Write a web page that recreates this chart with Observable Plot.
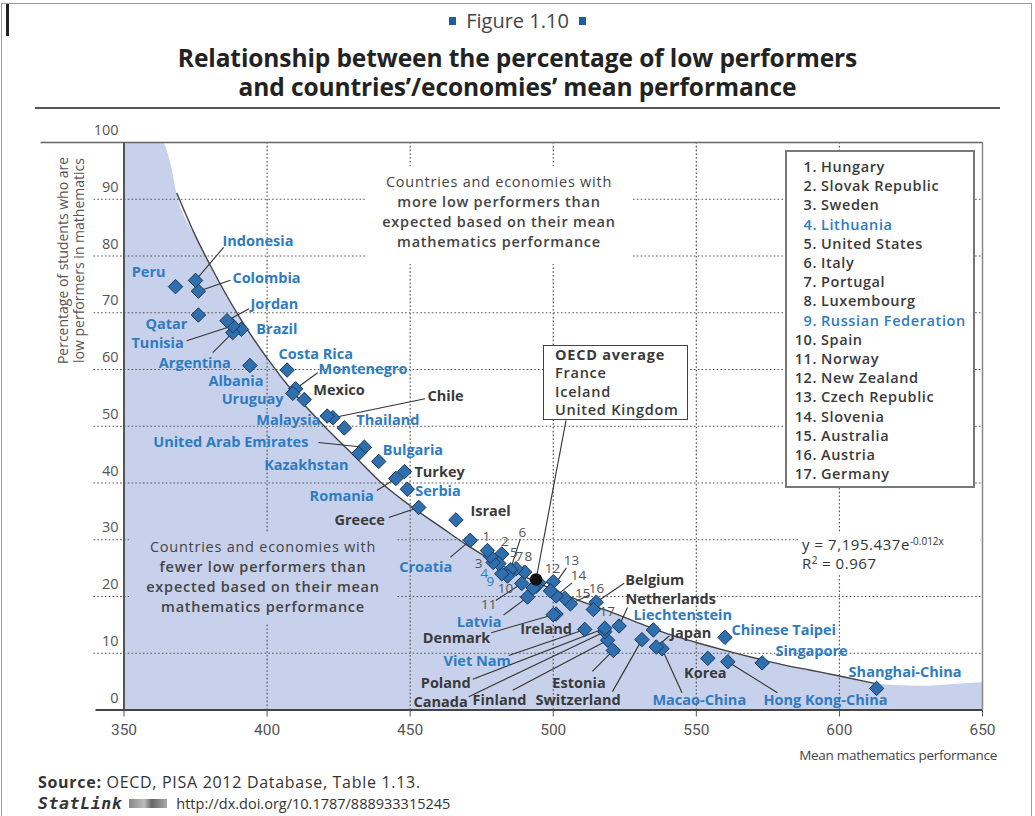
<!DOCTYPE html>
<html>
<head>
<meta charset="utf-8">
<script src="https://cdn.jsdelivr.net/npm/d3@7"></script>
<script src="https://cdn.jsdelivr.net/npm/@observablehq/plot@0.6"></script>
<style>
html,body{margin:0;padding:0;background:#fff;}
#page{position:relative;width:1035px;height:816px;overflow:hidden;background:#fff;font-family:"Open Sans",sans-serif;color:#333;}
#border{position:absolute;left:1px;top:3px;width:1029px;height:830px;border:1px solid #9a9a9a;}
#bar{position:absolute;left:6px;top:4px;width:3px;height:32px;background:#222;}
#fig{position:absolute;left:0;width:1035px;top:7px;text-align:center;font-size:20px;color:#444;line-height:28px;}
.sq{display:inline-block;width:7px;height:8px;background:#1f5c9c;vertical-align:3px;margin:0 10px;}
#title{position:absolute;left:0;width:1035px;top:43px;text-align:center;font-weight:700;font-size:24.5px;line-height:29px;color:#222;letter-spacing:-0.1px;}
#rule{position:absolute;left:35px;width:965px;top:107px;height:2px;background:#555;}
#chart{position:absolute;left:0;top:115px;}
.note{position:absolute;text-align:center;font-size:14.5px;line-height:20px;color:#444;letter-spacing:0.75px;white-space:nowrap;}
.note b{font-weight:600;}
#noteTop{left:366px;top:166px;width:266px;padding:6px 0 12px 0;background:#fff;}
#noteBot{left:129px;top:533px;width:268px;padding:4px 0 6px 0;background:#c8d1eb;}
#legend{position:absolute;left:785px;top:150px;width:186px;height:329px;border:2px solid #777;background:#fff;padding-top:5px;box-sizing:content-box;}
.li{font-size:14.5px;font-weight:600;line-height:19.2px;color:#3a3a3a;white-space:nowrap;letter-spacing:0.6px;}
.li .n{display:inline-block;width:30px;text-align:right;margin-right:4px;}
#oecd{position:absolute;left:543px;top:345px;width:145px;height:75px;border:1.5px solid #444;background:#fff;padding:0 0 0 11px;box-sizing:border-box;font-size:14.5px;line-height:18.3px;color:#3a3a3a;font-weight:600;white-space:nowrap;letter-spacing:0.75px;}
#eq{position:absolute;left:798px;top:532px;width:182px;height:41px;background:#fff;color:#333;padding:3px 0 0 4px;box-sizing:border-box;white-space:nowrap;letter-spacing:0.55px;}
#eq div{font-size:15px;line-height:18.5px;height:18.5px;}
#eq sup{font-size:10px;vertical-align:5px;line-height:0;letter-spacing:0;}
#xlab{position:absolute;right:38px;top:746px;font-size:13.5px;color:#444;letter-spacing:-0.3px;}
#src{position:absolute;left:38px;top:771px;font-size:16px;color:#333;letter-spacing:0.7px;white-space:nowrap;}
#stat{position:absolute;left:38px;top:794px;font-size:14.5px;color:#333;white-space:nowrap;}
#stat .sl{font-family:"DejaVu Sans Mono",monospace;font-weight:700;font-style:italic;font-size:16.5px;color:#333;letter-spacing:0.6px;}
#stat .ic{display:inline-block;width:38px;height:9px;margin:0 9px 0 7px;background:linear-gradient(90deg,#888,#bbb 40%,#666 60%,#aaa);vertical-align:1px;}
</style>
</head>
<body>
<div id="page">
  <div id="border"></div>
  <div id="bar"></div>
  <div id="fig"><span class="sq"></span>Figure 1.10<span class="sq"></span></div>
  <div id="title">Relationship between the percentage of low performers<br>and countries’/economies’ mean performance</div>
  <div id="rule"></div>
  <div id="chart"></div>
  <div class="note" id="noteTop">Countries and economies with<br><b>more low performers than<br>expected based on their mean<br>mathematics performance</b></div>
  <div class="note" id="noteBot">Countries and economies with<br><b>fewer low performers than<br>expected based on their mean<br>mathematics performance</b></div>
  <div id="legend"></div>
  <div id="oecd"><span style="font-weight:700">OECD average</span><br>France<br>Iceland<br>United Kingdom</div>
  <div id="eq"><div>y = 7,195.437e<sup>-0.012x</sup></div><div>R<sup>2</sup> = 0.967</div></div>
  <div id="xlab">Mean mathematics performance</div>
  <div id="src"><b style="font-weight:700">Source:</b> OECD, PISA 2012 Database, Table 1.13.</div>
  <div id="stat"><span class="sl">StatLink</span><span class="ic"></span>http://dx.doi.org/10.1787/888933315245</div>
</div>
<script>
// ---------------- DATA ----------------
const countries = ["Shanghai-China","Singapore","Hong Kong-China","Chinese Taipei","Korea","Macao-China","Japan","Liechtenstein","Switzerland","Netherlands","Estonia","Finland","Canada","Poland","Belgium","Germany","Viet Nam","Austria","Australia","Ireland","Slovenia","Denmark","New Zealand","Czech Republic","France","United Kingdom","Iceland","Latvia","Luxembourg","Norway","Portugal","Italy","Spain","Russian Federation","Slovak Republic","United States","Lithuania","Sweden","Hungary","Croatia","Israel","Greece","Serbia","Turkey","Romania","Bulgaria","United Arab Emirates","Kazakhstan","Thailand","Chile","Malaysia","Mexico","Montenegro","Uruguay","Costa Rica","Albania","Brazil","Argentina","Tunisia","Jordan","Colombia","Qatar","Indonesia","Peru"];
const meanScore = [613,573,561,560,554,538,536,535,531,523,521,519,518,518,515,514,511,506,504,501,501,500,500,499,495,494,493,491,490,489,487,485,484,482,482,481,479,478,477,471,466,453,449,448,445,439,434,432,427,423,421,413,410,409,407,394,391,388,388,386,376,376,375,368];
const lowPct = [3.8,8.3,8.5,12.8,9.1,10.8,11.1,14.1,12.4,14.8,10.5,12.3,13.8,14.4,19.0,17.7,14.2,18.7,19.7,16.9,20.1,16.8,22.6,21.0,22.4,21.8,21.5,19.9,24.3,22.3,24.9,24.7,23.6,24.0,27.5,25.8,26.0,27.1,28.1,29.9,33.5,35.7,38.9,42.0,40.8,43.8,46.3,45.2,49.7,51.5,51.8,54.7,56.6,55.8,59.9,60.7,67.1,66.5,67.7,68.6,73.8,69.6,75.7,74.6];
const partners = ["Shanghai-China","Singapore","Hong Kong-China","Chinese Taipei","Macao-China","Liechtenstein","Viet Nam","Latvia","Russian Federation","Lithuania","Croatia","Serbia","Romania","Bulgaria","United Arab Emirates","Kazakhstan","Thailand","Malaysia","Montenegro","Uruguay","Costa Rica","Albania","Brazil","Argentina","Tunisia","Jordan","Colombia","Qatar","Indonesia","Peru"];
const numbered = ["Hungary","Slovak Republic","Sweden","Lithuania","United States","Italy","Portugal","Luxembourg","Russian Federation","Spain","Norway","New Zealand","Czech Republic","Slovenia","Australia","Austria","Germany"];
const oecdAvgScore = [494];
const oecdAvgPct = [23.0];
// fitted curve
const trendX = [368.5,375,380,390,400,410,420,430,440,450,460,470,480,490,500,510,520,530,540,550,560,570,580,590,600,613];
const trendY = [91,83.5,78.5,69.5,62,55.5,50,45,40,36,32.5,29,26,23.5,21.2,19.1,17.3,15.3,13.4,11.9,10.5,9.2,8.0,7.0,6.0,4.6];
// shaded region edges beyond the curve
const shadeLeftX = [350,363.5,366.5];
const shadeLeftY = [100,100,96];
const shadeRightX = [620,630,640,650];
const shadeRightY = [4.3,4.2,4.5,4.8];
const xTicks = [350,400,450,500,550,600,650];
const yTicks = [0,10,20,30,40,50,60,70,80,90,100];

// ---------------- LAYOUT (label offsets in px from the point) ----------------
const labelLayout = {
 "Peru":[-10,-14,"end"],
 "Indonesia":[27,-39,"start",28,-33],
 "Colombia":[34,-13,"start",32,-11],
 "Jordan":[23.5,-16,"start",22,-12],
 "Qatar":[-11,9.5,"end"],
 "Tunisia":[-49,18,"end",-46,15],
 "Argentina":[-2,31,"end",-20,20],
 "Brazil":[15,0,"start"],
 "Albania":[13.6,16,"end"],
 "Costa Rica":[-8.6,-15.6,"start"],
 "Montenegro":[22.8,-19,"start",22,-16],
 "Mexico":[9,-9,"start"],
 "Uruguay":[-9.4,6.5,"end"],
 "Chile":[94.6,-21,"start",92,-19],
 "Malaysia":[-6.7,4.5,"end"],
 "Thailand":[12,-7.5,"start"],
 "United Arab Emirates":[-56,-4.7,"end",-46,-4.7],
 "Kazakhstan":[-10,12,"end"],
 "Bulgaria":[4,-11,"start"],
 "Turkey":[10,1,"start"],
 "Romania":[-22,18,"end",-19,12],
 "Serbia":[8,2,"start"],
 "Greece":[-34,13,"end",-30,10],
 "Israel":[14.5,-9,"start"],
 "Croatia":[-18,27,"end",-20,17],
 "Latvia":[-26,25,"end",-24,18],
 "Denmark":[-63,24,"end",-62,18],
 "Ireland":[-10,15.5,"middle"],
 "Viet Nam":[-74,32,"end",-76,26],
 "Poland":[-134,55,"end",-132,51],
 "Canada":[-137,71,"end",-136,65],
 "Finland":[-135,60,"start",-95,50],
 "Switzerland":[-106.5,61,"start",-29.5,52],
 "Estonia":[-61,32.5,"start",-21,21],
 "Belgium":[29,-22,"start",28,-19],
 "Netherlands":[6.4,-27,"start",8.4,-18.5],
 "Liechtenstein":[-20,-14.5,"start"],
 "Japan":[14,-14,"start",13,-11],
 "Macao-China":[-9.6,52,"start",20,44],
 "Korea":[-2.4,15,"middle"],
 "Chinese Taipei":[6.5,-7,"start"],
 "Hong Kong-China":[35.6,39,"start",49.6,31],
 "Singapore":[13.3,-11.4,"start"],
 "Shanghai-China":[-28,-16,"start"]
};
const numLayout = [
 [-1,-13.6],[3,-12],[-11.8,7.3],[-8.7,11],[15,-11],[12,-37,10,-31],[3.4,-12],[3.8,-15.6],
 [-11.3,7.7],[-2,12.4],[-33,21,-26,17],[-0.8,-13],[21,-30,16,-23],[22.4,-20,16,-13],[18,-5],[26,-15.4,19,-9],[14,2]
];
const avgBoxLead = [29.9,-159];

// ---------------- BUILD ----------------
const W=1035,H=655,mL=123.5,mR=53,mT=27,mB=60.5;
const kx=(W-mL-mR)/(xTicks[xTicks.length-1]-xTicks[0]);
const ky=(H-mT-mB)/(yTicks[yTicks.length-1]-yTicks[0]);
const blue="#2f7bc0", dark="#3a3a3a";
const pts = countries.map((name,i)=>({name,x:meanScore[i],y:lowPct[i],partner:partners.includes(name)}));
const byName = new Map(pts.map(d=>[d.name,d]));
const labels=[], leaders=[], nums=[];
for (const [name,[dx,dy,anchor,lx,ly]] of Object.entries(labelLayout)) {
  const p=byName.get(name);
  labels.push({text:name,x:p.x+dx/kx,y:p.y-dy/ky,anchor,fill:p.partner?blue:dark});
  if (lx!==undefined) leaders.push({x1:p.x,y1:p.y,x2:p.x+lx/kx,y2:p.y-ly/ky});
}
numbered.forEach((name,i)=>{
  const [dx,dy,lx,ly]=numLayout[i]; const p=byName.get(name);
  nums.push({text:String(i+1),x:p.x+dx/kx,y:p.y-dy/ky,fill:p.partner?blue:"#555"});
  if (lx!==undefined) leaders.push({x1:p.x,y1:p.y,x2:p.x+lx/kx,y2:p.y-ly/ky});
});
const avg = oecdAvgScore.map((x,i)=>({x,y:oecdAvgPct[i]}));
leaders.push({x1:avg[0].x,y1:avg[0].y,x2:avg[0].x+avgBoxLead[0]/kx,y2:avg[0].y-avgBoxLead[1]/ky});
const trend = trendX.map((x,i)=>({x,y:trendY[i]}));
const shade = [...shadeLeftX.map((x,i)=>({x,y:shadeLeftY[i]})), ...trend, ...shadeRightX.map((x,i)=>({x,y:shadeRightY[i]}))];
const grid = "1.6,2.2";
const lab = {fontFamily:"Open Sans",fontSize:14.5,fontWeight:700,fill:"fill",text:"text",x:"x",y:"y"};

const chart = Plot.plot({
  width:W,height:H,marginLeft:mL,marginRight:mR,marginTop:mT,marginBottom:mB,
  x:{domain:[xTicks[0],xTicks[xTicks.length-1]]},
  y:{domain:[yTicks[0],yTicks[yTicks.length-1]]},
  color:{type:"identity"},
  style:{background:"transparent",overflow:"visible",fontFamily:"Open Sans"},
  marks:[
    Plot.areaY(shade,{x:"x",y:"y",fill:"#c8d1eb",curve:"monotone-x"}),
    Plot.ruleY(yTicks.slice(1,-1),{stroke:"#555",strokeWidth:1.2,strokeDasharray:grid,insetLeft:-30}),
    Plot.ruleX(xTicks.slice(1,-1),{stroke:"#555",strokeWidth:1.2,strokeDasharray:grid}),
    Plot.ruleY([yTicks[yTicks.length-1]],{stroke:"#666",strokeWidth:1.5,insetLeft:-83}),
    Plot.ruleY([yTicks[0]],{stroke:"#444",strokeWidth:2,insetLeft:-28}),
    Plot.ruleX([xTicks[0]],{stroke:"#555",strokeWidth:2}),
    Plot.ruleX([xTicks[xTicks.length-1]],{stroke:"#888",strokeWidth:1.5}),
    Plot.line(trend,{x:"x",y:"y",stroke:"#444",strokeWidth:1.4,curve:"monotone-x"}),
    Plot.link(leaders,{x1:"x1",y1:"y1",x2:"x2",y2:"y2",stroke:"#333",strokeWidth:1.1}),
    Plot.dot(pts,{x:"x",y:"y",symbol:"diamond2",r:6.5,fill:"#2f6fae",stroke:"#17365c",strokeWidth:1}),
    Plot.dot(avg,{x:"x",y:"y",symbol:"circle",r:5.5,fill:"#111",stroke:"#111"}),
    Plot.text(labels.filter(d=>d.anchor==="start"),{...lab,textAnchor:"start",ariaLabel:"clabel"}),
    Plot.text(labels.filter(d=>d.anchor==="end"),{...lab,textAnchor:"end",ariaLabel:"clabel"}),
    Plot.text(labels.filter(d=>d.anchor==="middle"),{...lab,textAnchor:"middle",ariaLabel:"clabel"}),
    Plot.text(nums,{x:"x",y:"y",text:"text",fill:"fill",fontSize:13.5,fontFamily:"Open Sans"}),
    Plot.axisX({ticks:xTicks,tickSize:7,tickPadding:7,fontSize:15.5,fill:"#555",stroke:"#555",label:null,tickFormat:d=>String(d),fontFamily:"Roboto"}),
    Plot.axisY({ticks:yTicks,tickSize:0,tickPadding:5.5,dy:-12,fontSize:14.5,fill:"#555",label:null,tickFormat:d=>String(d)}),
    Plot.text(["Percentage of students who are\nlow performers in mathematics"],{frameAnchor:"top-left",dx:-67.5,dy:118,rotate:-90,fontSize:14,lineHeight:1.15,fill:"#555",textAnchor:"middle"})
  ]
});
document.getElementById("chart").appendChild(chart);
chart.querySelectorAll('g[aria-label="clabel"] text').forEach(t=>t.style.letterSpacing="0.85px");

// legend
const leg = document.getElementById("legend");
numbered.forEach((name,i)=>{
  const div=document.createElement("div");
  div.className="li";
  if (partners.includes(name)) div.style.color=blue;
  div.innerHTML=`<span class="n">${i+1}.</span>${name}`;
  leg.appendChild(div);
});
</script>
</body>
</html>
